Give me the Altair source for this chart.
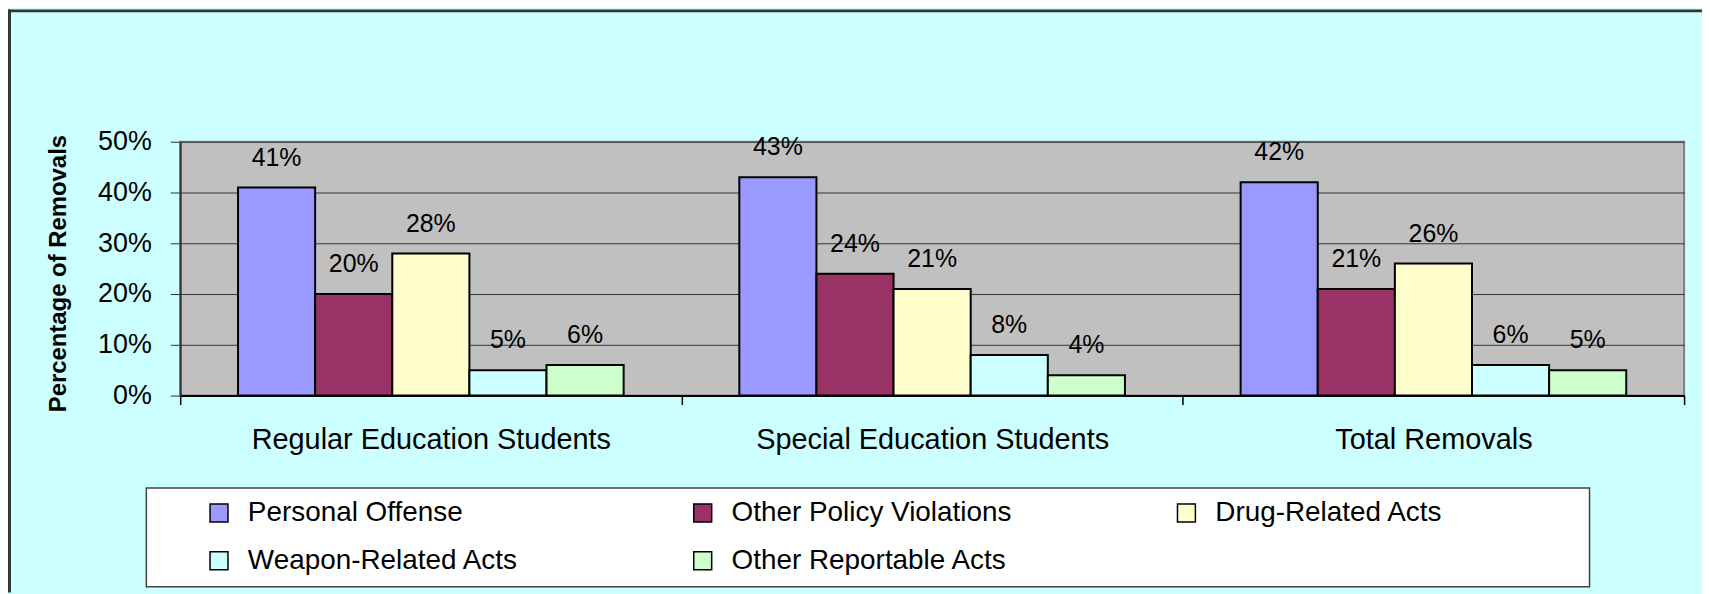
import altair as alt
import pandas as pd

# ---- data ----
groups = ["Regular Education Students", "Special Education Students", "Total Removals"]
offenses = ["Personal Offense", "Other Policy Violations", "Drug-Related Acts",
            "Weapon-Related Acts", "Other Reportable Acts"]
colors = ["#9999FF", "#993366", "#FFFFCC", "#CCFFFF", "#CCFFCC"]
regular = [41, 20, 28, 5, 6]
special = [43, 24, 21, 8, 4]
total = [42, 21, 26, 6, 5]
y_ticks = [0, 0.1, 0.2, 0.3, 0.4, 0.5]

rows = []
for g, vals in zip(groups, [regular, special, total]):
    for o, v in zip(offenses, vals):
        rows.append({"group": g, "offense": o, "value": v / 100})
df = pd.DataFrame(rows)
frame_df = pd.DataFrame({"k": [0]})

W, H = 1511, 255
FONT = "Liberation Sans"

x = alt.X(
    "group:N", sort=groups,
    scale=alt.Scale(paddingInner=0, paddingOuter=0),
    axis=alt.Axis(title=None, labelAngle=0, labelFontSize=29, labelColor="black",
                  labelFont=FONT, labelLimit=1000, tickBand="extent", tickSize=9,
                  tickColor="black", tickWidth=1.5, labelPadding=21,
                  domainColor="black", domainWidth=2),
)
xo = alt.XOffset("offense:N", sort=offenses,
                 scale=alt.Scale(domain=offenses, paddingInner=0, paddingOuter=0.75))
y = alt.Y(
    "value:Q",
    scale=alt.Scale(domain=[0, 0.5], nice=False, zero=True),
    axis=alt.Axis(values=y_ticks, format=".0%", title="Percentage of Removals",
                  labelFontSize=27, labelFont=FONT, labelColor="black", labelPadding=19,
                  tickSize=10, tickColor="#333333", grid=True, gridColor="#333333",
                  gridWidth=1, domainColor="#333333", domainWidth=2,
                  titleFont=FONT, titleFontSize=24, titleFontWeight="bold",
                  titleColor="black", titleX=-122, titleY=132, titleAngle=270,
                  titleAlign="center", titleBaseline="middle"),
)
color = alt.Color(
    "offense:N", sort=offenses,
    scale=alt.Scale(domain=offenses, range=colors),
    legend=alt.Legend(title=None, orient="none", legendX=25, legendY=359,
                      columns=3, direction="horizontal", gridAlign="all",
                      columnPadding=161, rowPadding=20, symbolType="square",
                      symbolSize=324, symbolStrokeColor="black", symbolStrokeWidth=1.5,
                      symbolOpacity=1, labelFontSize=28, labelFont=FONT,
                      labelColor="black", labelOffset=15, padding=0, labelLimit=1000),
)

legend_box = alt.Chart(frame_df).mark_rect(fill="white", stroke="#404040", strokeWidth=1.5).encode(
    x=alt.value(-34), x2=alt.value(1416), y=alt.value(348), y2=alt.value(447)
)
left_border = alt.Chart(frame_df).mark_rule(color="#333333", strokeWidth=3).encode(
    x=alt.value(-171.5), y=alt.value(-133), y2=alt.value(453)
)
top_border = alt.Chart(frame_df).mark_rule(color="#333333", strokeWidth=3).encode(
    y=alt.value(-131.5), x=alt.value(-173), x2=alt.value(1529)
)

bars = alt.Chart(df).mark_bar(stroke="black", strokeWidth=2).encode(
    x=x, xOffset=xo, y=y, color=color
)
labels = alt.Chart(df).mark_text(dy=-22, baseline="alphabetic", fontSize=25, font=FONT,
                                 color="black").encode(
    x=x, xOffset=xo, y=y, text=alt.Text("value:Q", format=".0%")
)

chart = alt.layer(legend_box, left_border, top_border, bars, labels).properties(
    width=W, height=H,
    background="#CCFFFF",
    padding={"left": 173, "top": 133, "right": 18, "bottom": 198},
    autosize=alt.AutoSizeParams(type="none"),
).configure_view(
    fill="#C0C0C0", stroke="#808080", strokeWidth=2
)

chart.save("out.html", embed_options={"renderer": "svg", "actions": False})
